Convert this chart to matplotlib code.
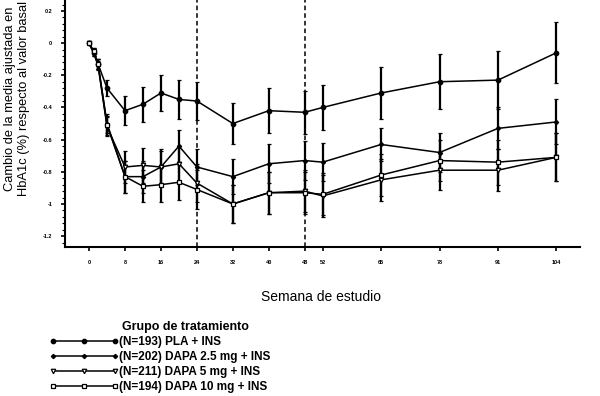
import matplotlib
matplotlib.use('Agg')
import matplotlib.pyplot as plt
from matplotlib.lines import Line2D
from matplotlib.ticker import MultipleLocator

plt.rcParams['font.family'] = ['Liberation Sans', 'DejaVu Sans']

# Semanas del estudio y cambio medio ajustado de HbA1c (%)
semanas = [0, 1, 2, 4, 8, 12, 16, 20, 24, 32, 40, 48, 52, 65, 78, 91, 104]
pla = [0, -0.06, -0.13, -0.28, -0.42, -0.38, -0.31, -0.35, -0.36, -0.50, -0.42, -0.43, -0.40, -0.31, -0.24, -0.23, -0.06]
pla_err = [0, 0.02, 0.03, 0.05, 0.09, 0.11, 0.11, 0.12, 0.12, 0.125, 0.14, 0.135, 0.14, 0.16, 0.17, 0.18, 0.19]
dapa25 = [0, -0.05, -0.13, -0.50, -0.83, -0.83, -0.77, -0.64, -0.77, -0.83, -0.75, -0.73, -0.74, -0.63, -0.68, -0.53, -0.49]
dapa25_err = [0, 0.02, 0.03, 0.06, 0.10, 0.10, 0.10, 0.10, 0.11, 0.11, 0.12, 0.12, 0.12, 0.10, 0.12, 0.13, 0.14]
dapa5 = [0, -0.06, -0.14, -0.52, -0.77, -0.76, -0.77, -0.75, -0.87, -1.00, -0.93, -0.92, -0.95, -0.85, -0.79, -0.79, -0.71]
dapa5_err = [0, 0.02, 0.03, 0.06, 0.10, 0.11, 0.11, 0.11, 0.12, 0.12, 0.13, 0.13, 0.13, 0.13, 0.12, 0.13, 0.15]
dapa10 = [0, -0.05, -0.13, -0.51, -0.83, -0.89, -0.88, -0.865, -0.91, -1.00, -0.93, -0.93, -0.94, -0.82, -0.73, -0.74, -0.71]
dapa10_err = [0, 0.02, 0.03, 0.06, 0.10, 0.10, 0.11, 0.11, 0.12, 0.12, 0.13, 0.13, 0.13, 0.13, 0.13, 0.14, 0.15]

etiquetas = ['(N=193) PLA + INS', '(N=202) DAPA 2.5 mg + INS',
             '(N=211) DAPA 5 mg + INS', '(N=194) DAPA 10 mg + INS']
marcadores = ['o', 'D', 'v', 's']
rellenos = ['black', 'black', 'white', 'white']
tamanos = [3.2, 2.2, 3.2, 3.2]

xticks = [0, 8, 16, 24, 32, 40, 48, 52, 65, 78, 91, 104]
yticks = [0.2, 0, -0.2, -0.4, -0.6, -0.8, -1, -1.2]
ytick_labels = ['0.2', '0', '-0.2', '-0.4', '-0.6', '-0.8', '-1', '-1.2']

fig = plt.figure(figsize=(6, 3.96), dpi=100)
ax = fig.add_axes([0.108, 0.376, 0.859, 0.624])

series = [(pla, pla_err), (dapa25, dapa25_err), (dapa5, dapa5_err), (dapa10, dapa10_err)]
for (vals, errs), m, fc, ms in zip(series, marcadores, rellenos, tamanos):
    ax.errorbar(semanas, vals, yerr=errs, color='black', lw=1.1, elinewidth=1.6,
                capsize=1.5, capthick=1.0, marker=m, ms=ms, mfc=fc, mec='black',
                mew=0.9)

# Líneas verticales discontinuas en las semanas 24 y 48
for s in [24, 48]:
    ax.axvline(s, color='black', ls=(0, (3, 2)), lw=1.1, zorder=0)

ax.set_xlim(-5.4, 109.3)
ax.set_ylim(-1.268, 0.268)
ax.set_xticks(xticks)
ax.set_xticklabels([str(t) for t in xticks], fontsize=4, fontweight='bold')
ax.set_yticks(yticks)
ax.set_yticklabels(ytick_labels, fontsize=4, fontweight='bold')
ax.yaxis.set_minor_locator(MultipleLocator(0.04))
ax.tick_params(axis='both', which='major', length=3, width=1.2, pad=6)
ax.tick_params(axis='y', which='minor', length=2, width=0.8)

for lado in ['top', 'right']:
    ax.spines[lado].set_visible(False)
for lado in ['left', 'bottom']:
    ax.spines[lado].set_linewidth(1.5)

fig.text(0.535, 0.25, 'Semana de estudio', fontsize=10, ha='center', va='center')
fig.text(0.028, 0.75, 'Cambio de la media ajustada en\nHbA1c (%) respecto al valor basal',
         fontsize=9.3, rotation=90, ha='center', va='center', linespacing=1.25)

# Leyenda: líneas con marcadores, sin barras de error
handles = [Line2D([], [], color='black', lw=1.1, marker=m, ms=ms, mfc=fc, mec='black', mew=0.9)
           for m, fc, ms in zip(marcadores, rellenos, tamanos)]
fig.text(0.203, 0.175, 'Grupo de tratamiento', fontsize=9, fontweight='bold', va='center')
ax.legend(handles, etiquetas, loc='upper left', bbox_to_anchor=(0.083, 0.152),
          bbox_transform=fig.transFigure, frameon=False, numpoints=3,
          handlelength=5.8, handletextpad=0.1, labelspacing=0.25,
          borderaxespad=0, borderpad=0, prop={'size': 8.5, 'weight': 'bold'})

fig.savefig('out.png', dpi=100)
